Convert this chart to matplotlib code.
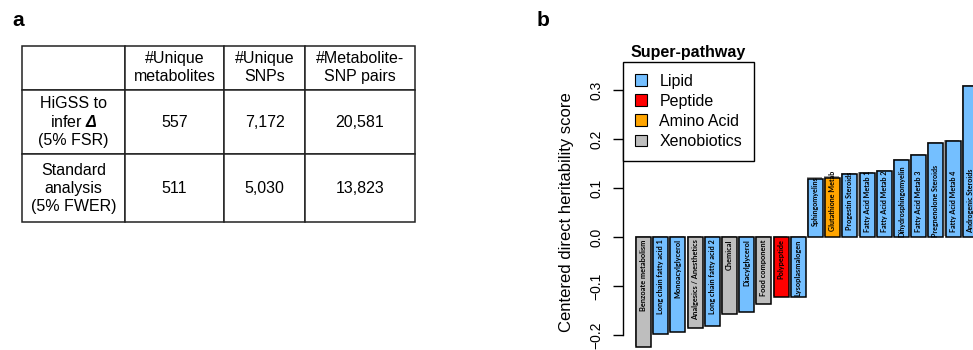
import matplotlib
matplotlib.use("Agg")
import matplotlib.pyplot as plt
import matplotlib.patheffects as pe
from matplotlib.patches import Patch

plt.rcParams['font.family'] = ['Liberation Sans', 'DejaVu Sans']
plt.rcParams['mathtext.fontset'] = 'custom'
plt.rcParams['mathtext.bfit'] = 'Liberation Sans:italic:bold'
plt.rcParams['mathtext.rm'] = 'Liberation Sans'

# ---- panel a: table data
col_labels = ["#Unique\nmetabolites", "#Unique\nSNPs", "#Metabolite-\nSNP pairs"]
row_labels = ["HiGSS to\ninfer $\\mathbfit{\\Delta}$\n(5% FSR)",
              "Standard\nanalysis\n(5% FWER)"]
n_metabolites = ["557", "511"]
n_snps = ["7,172", "5,030"]
n_pairs = ["20,581", "13,823"]

# ---- panel b: bar data
pathways = ["Benzoate metabolism", "Long chain fatty acid 1", "Monoacylglycerol",
            "Analgesics / Anesthetics", "Long chain fatty acid 2", "Chemical",
            "Diacylglycerol", "Food component", "Polypeptide", "Lysoplasmalogen",
            "Sphingomyelins", "Glutathione Metab", "Progestin Steroids",
            "Fatty Acid Metab 1", "Fatty Acid Metab 2", "Dihydrosphingomyelin",
            "Fatty Acid Metab 3", "Pregnenolone Steroids", "Fatty Acid Metab 4",
            "Androgenic Steroids"]
super_pathway = ["Xenobiotics", "Lipid", "Lipid", "Xenobiotics", "Lipid",
                 "Xenobiotics", "Lipid", "Xenobiotics", "Peptide", "Lipid",
                 "Lipid", "Amino Acid", "Lipid", "Lipid", "Lipid", "Lipid",
                 "Lipid", "Lipid", "Lipid", "Lipid"]
scores = [-0.224, -0.197, -0.193, -0.186, -0.180, -0.157, -0.153, -0.137,
          -0.122, -0.122, 0.120, 0.122, 0.129, 0.131, 0.135, 0.158, 0.167,
          0.192, 0.197, 0.308]
legend_names = ["Lipid", "Peptide", "Amino Acid", "Xenobiotics"]
legend_colors = ["#74BFFF", "#FF0000", "#FFA500", "#BEBEBE"]

W, H = 973, 350


def fig_box(x0, y0, x1, y1):
    # pixel box (top-left origin) -> figure fraction [l, b, w, h]
    return [x0 / W, 1 - y1 / H, (x1 - x0) / W, (y1 - y0) / H]


fig = plt.figure(figsize=(W / 100, H / 100), dpi=100)

fig.text(12 / W, 1 - 20 / H, "a", fontsize=15, fontweight="bold", va="center")
fig.text(537 / W, 1 - 20 / H, "b", fontsize=15, fontweight="bold", va="center")

# ---------------- table
tax = fig.add_axes(fig_box(22, 45.7, 415, 222))
tax.axis('off')
cells = [[""] + col_labels]
for i in range(len(row_labels)):
    cells.append([row_labels[i], n_metabolites[i], n_snps[i], n_pairs[i]])
col_w = [103, 99, 81, 110]
row_h = [44.3, 64.3, 67.7]
table = tax.table(cellText=cells, colWidths=col_w, cellLoc='center',
                  bbox=[0, 0, 1, 1])
table.auto_set_font_size(False)
table.set_fontsize(11.5)
for (r, c), cell in table.get_celld().items():
    cell.set_height(row_h[r])
    cell.set_linewidth(1.1)
    cell.set_edgecolor("#222222")
    cell.get_text().set_linespacing(1.25)

# ---------------- bars
ax = fig.add_axes(fig_box(622.7, 75.6, 980.6, 359.8))
color_of = dict(zip(legend_names, legend_colors))
x = list(range(len(scores)))
bars = ax.bar(x, scores, width=0.87,
              color=[color_of[s] for s in super_pathway],
              edgecolor="black", linewidth=1.1)
for b in bars:
    b.set_path_effects([pe.SimplePatchShadow(offset=(-0.8, 0.8),
                                             shadow_rgbFace="0.35", alpha=0.6),
                        pe.Normal()])

for xi, name, v in zip(x, pathways, scores):
    if v < 0:
        ax.text(xi, -0.004, name, rotation=90, ha="center", va="top",
                fontsize=5.3, fontweight="bold", family="Lato")
    else:
        ax.text(xi, 0.074, name, rotation=90, ha="center", va="center",
                fontsize=5.1, fontweight="bold", family="Lato")

ax.set_xlim(-1.21, 19.6)
ax.set_ylim(-0.25, 0.33)
ax.set_xticks([])
for s in ["top", "right", "bottom"]:
    ax.spines[s].set_visible(False)
ax.spines["left"].set_bounds(-0.2, 0.3)
ax.spines["left"].set_linewidth(1.0)
ax.set_yticks([-0.2, -0.1, 0.0, 0.1, 0.2, 0.3])
ax.set_yticklabels(["\u22120.2", "\u22120.1", "0.0", "0.1", "0.2", "0.3"],
                   rotation=90, va="center")
ax.tick_params(axis="y", length=7, width=1.0, pad=7, labelsize=10)
ax.set_ylabel("Centered direct heritability score", fontsize=12)
ax.yaxis.set_label_coords(-0.135, 0.52)

handles = [Patch(facecolor=c, edgecolor="black", linewidth=0.8)
           for c in legend_colors]
fig.legend(handles, legend_names, loc="upper left",
           bbox_to_anchor=(622.7 / W, 1 - 61.7 / H), borderaxespad=0,
           fontsize=11.5, frameon=True, fancybox=False, edgecolor="black",
           framealpha=1, handlelength=0.75, handleheight=0.75,
           handletextpad=0.8, labelspacing=0.32, borderpad=0.75)
fig.text(688 / W, 1 - 53 / H, "Super-pathway", fontsize=11.5,
         fontweight="bold", ha="center", va="center")

fig.savefig("out.png", dpi=100)
